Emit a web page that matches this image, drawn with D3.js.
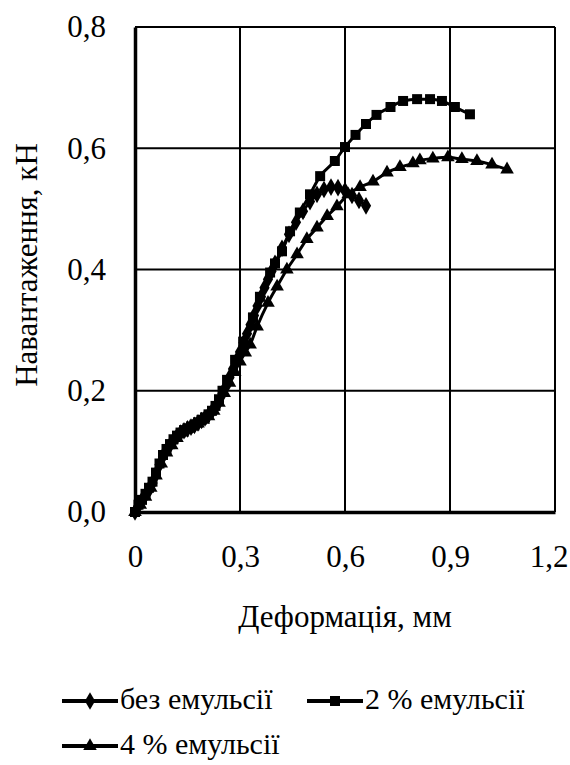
<!DOCTYPE html>
<html><head><meta charset="utf-8">
<script src="https://cdn.jsdelivr.net/npm/d3@7"></script>
<style>body{margin:0;background:#fff}svg{display:block}</style>
</head><body>
<svg id="c" width="570" height="765"></svg>
<script>
const xTicks = [0, 0.3, 0.6, 0.9, 1.2];
const yTicks = [0, 0.2, 0.4, 0.6, 0.8];
const xTickLabels = ["0", "0,3", "0,6", "0,9", "1,2"];
const yTickLabels = ["0,0", "0,2", "0,4", "0,6", "0,8"];
const seriesNames = ["без емульсії", "2 % емульсії", "4 % емульсії"];

const x0 = [0,0.01,0.02,0.03,0.04,0.05,0.06,0.07,0.08,0.09,0.10,0.11,0.12,0.13,0.14,0.15,0.16,0.17,0.18,0.19,0.20,0.21,0.22,0.23,0.24,0.25,0.26,0.27,0.28,0.29,0.30,0.31,0.32,0.33,0.34,0.35,0.36,0.37,0.38,0.39,0.40,0.42,0.44,0.46,0.48,0.50,0.52,0.54,0.56,0.58,0.60,0.62,0.64,0.66];
const y0 = [0,0.01,0.02,0.028,0.036,0.048,0.062,0.078,0.092,0.102,0.11,0.118,0.125,0.13,0.134,0.137,0.14,0.143,0.147,0.151,0.155,0.16,0.166,0.173,0.182,0.195,0.207,0.222,0.236,0.25,0.264,0.279,0.294,0.309,0.324,0.34,0.355,0.37,0.384,0.397,0.41,0.435,0.458,0.478,0.496,0.512,0.524,0.532,0.536,0.535,0.53,0.522,0.514,0.505];

const x1 = [0,0.01,0.02,0.03,0.04,0.05,0.06,0.07,0.08,0.09,0.10,0.11,0.12,0.13,0.14,0.15,0.16,0.17,0.18,0.19,0.20,0.21,0.22,0.23,0.24,0.25,0.263,0.286,0.309,0.337,0.357,0.386,0.40,0.42,0.443,0.471,0.50,0.529,0.571,0.60,0.63,0.66,0.69,0.73,0.766,0.806,0.843,0.877,0.914,0.957];
const y1 = [0,0.012,0.02,0.03,0.04,0.05,0.065,0.08,0.094,0.104,0.112,0.12,0.126,0.131,0.135,0.138,0.141,0.144,0.148,0.152,0.156,0.161,0.167,0.175,0.186,0.2,0.218,0.251,0.281,0.321,0.355,0.395,0.41,0.43,0.463,0.494,0.524,0.554,0.579,0.602,0.622,0.64,0.655,0.668,0.678,0.681,0.681,0.678,0.668,0.656];

const x2 = [0,0.015,0.03,0.045,0.06,0.075,0.09,0.105,0.12,0.135,0.15,0.165,0.18,0.195,0.21,0.225,0.24,0.255,0.27,0.285,0.30,0.315,0.329,0.349,0.38,0.406,0.434,0.463,0.491,0.52,0.549,0.577,0.609,0.643,0.68,0.72,0.757,0.794,0.814,0.851,0.894,0.934,0.977,1.02,1.063];
const y2 = [0,0.012,0.025,0.04,0.06,0.08,0.098,0.11,0.122,0.131,0.137,0.141,0.146,0.152,0.158,0.167,0.18,0.196,0.213,0.231,0.248,0.263,0.276,0.306,0.345,0.372,0.4,0.425,0.45,0.469,0.488,0.504,0.524,0.536,0.545,0.56,0.569,0.575,0.58,0.583,0.585,0.582,0.579,0.573,0.565];

const series = [
  {name: seriesNames[0], xs: x0, ys: y0, sym: d3.symbolDiamond, size: 90},
  {name: seriesNames[1], xs: x1, ys: y1, sym: d3.symbolSquare, size: 100},
  {name: seriesNames[2], xs: x2, ys: y2, sym: d3.symbolTriangle, size: 80}
];

const FONT = "'Liberation Serif'";
const svg = d3.select("#c");
const L = 135, R = 555, T = 27, B = 512;
const x = d3.scaleLinear().domain([0, 1.2]).range([L, R]);
const y = d3.scaleLinear().domain([0, 0.8]).range([B, T]);

// gridlines
svg.append("g").selectAll("line").data(xTicks.slice(1)).join("line")
  .attr("x1", d => x(d)).attr("x2", d => x(d)).attr("y1", T).attr("y2", B)
  .attr("stroke", "#000").attr("stroke-width", 2);
svg.append("g").selectAll("line").data(yTicks.slice(1)).join("line")
  .attr("x1", L).attr("x2", R).attr("y1", d => y(d)).attr("y2", d => y(d))
  .attr("stroke", "#000").attr("stroke-width", 2);

// axes
const xAxis = d3.axisBottom(x).tickValues(xTicks).tickFormat((d, i) => xTickLabels[i]).tickSize(0).tickPadding(33);
const yAxis = d3.axisLeft(y).tickValues(yTicks).tickFormat((d, i) => yTickLabels[i]).tickSize(0).tickPadding(29);
const gx = svg.append("g").attr("transform", `translate(0,${B})`).call(xAxis);
const gy = svg.append("g").attr("transform", `translate(${L},0)`).call(yAxis);
[gx, gy].forEach(g => {
  g.attr("font-family", null).attr("font-size", null);
  g.select(".domain").attr("stroke", "#000").attr("stroke-width", 3.5);
  g.selectAll("text").style("font-family", FONT).style("font-size", "31px").attr("fill", "#000");
});
// keep the last x label inside the frame
gx.selectAll(".tick").filter(d => d === 1.2).select("text")
  .attr("text-anchor", "end").attr("x", 13);

// series
const line = d3.line().x(d => x(d[0])).y(d => y(d[1])).curve(d3.curveMonotoneX);
series.forEach(s => {
  const pts = s.xs.map((v, i) => [v, s.ys[i]]);
  const g = svg.append("g");
  g.append("path").datum(pts).attr("d", line).attr("fill", "none").attr("stroke", "#000").attr("stroke-width", 3);
  g.selectAll("path.m").data(pts).join("path").attr("class", "m")
    .attr("transform", d => `translate(${x(d[0])},${y(d[1])})`)
    .attr("d", d3.symbol().type(s.sym).size(s.size))
    .attr("fill", "#000");
});

// axis titles
svg.append("text").attr("x", 345).attr("y", 627).attr("text-anchor", "middle")
  .style("font-family", FONT).style("font-size", "31px").text("Деформація, мм");
svg.append("text").attr("transform", "translate(37,265) rotate(-90)").attr("text-anchor", "middle")
  .style("font-family", FONT).style("font-size", "31px").text("Навантаження, кН");

// legend
const legPos = [[62, 701], [307, 701], [62, 746]];
series.forEach((s, i) => {
  const [lx, ly] = legPos[i];
  const g = svg.append("g");
  g.append("line").attr("x1", lx).attr("x2", lx + 56).attr("y1", ly).attr("y2", ly)
    .attr("stroke", "#000").attr("stroke-width", 4);
  g.append("path").attr("transform", `translate(${lx + 28},${ly})`)
    .attr("d", d3.symbol().type(s.sym).size(s.size)).attr("fill", "#000");
  g.append("text").attr("x", lx + 58).attr("y", ly + 8)
    .style("font-family", FONT).style("font-size", "30px").text(s.name);
});
</script>
</body></html>
